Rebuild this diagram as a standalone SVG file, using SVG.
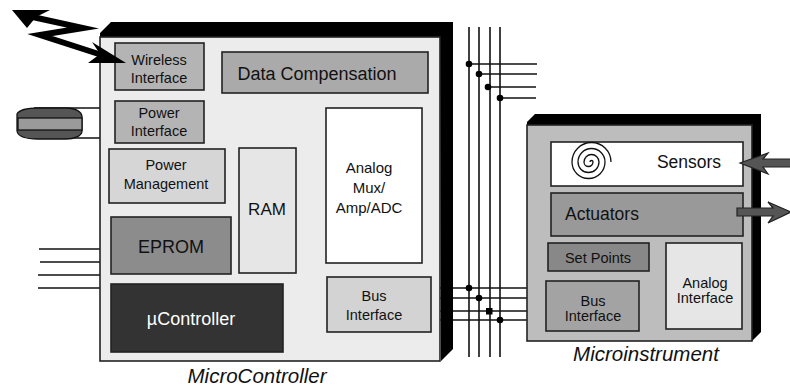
<svg xmlns="http://www.w3.org/2000/svg" width="790" height="390" viewBox="0 0 790 390">
<style>
.box{stroke:#222;stroke-width:1.6}
.t{font-family:"Liberation Sans",Arial,sans-serif;font-size:14.5px;fill:#111;text-anchor:middle}
.tl{font-family:"Liberation Sans",Arial,sans-serif;font-size:18px;fill:#111;text-anchor:middle}
.cap{font-family:"Liberation Sans",Arial,sans-serif;font-size:20.5px;font-style:italic;fill:#111;text-anchor:middle}
.w{stroke:#111;stroke-width:1.6;fill:none}
.dot{fill:#000}
.arr{fill:#555;stroke:#222;stroke-width:1.2;stroke-linejoin:miter}
</style>
<rect width="790" height="390" fill="#fff"/>

<g id="connectors">
  <line class="w" x1="39" y1="249" x2="100" y2="249"/>
  <line class="w" x1="40" y1="262" x2="100" y2="262"/>
  <line class="w" x1="38" y1="275" x2="100" y2="275"/>
  <line class="w" x1="38" y1="288" x2="100" y2="288"/>
  <line class="w" x1="34" y1="108" x2="115" y2="108"/>
  <line class="w" x1="34" y1="138" x2="115" y2="138"/>
  <line class="w" x1="469" y1="27" x2="469" y2="357"/>
  <line class="w" x1="479" y1="27" x2="479" y2="357"/>
  <line class="w" x1="490" y1="27" x2="490" y2="357"/>
  <line class="w" x1="500" y1="27" x2="500" y2="357"/>
  <line class="w" x1="469" y1="64" x2="537" y2="64"/>
  <line class="w" x1="479" y1="74" x2="537" y2="74"/>
  <line class="w" x1="489" y1="87" x2="536" y2="87"/>
  <line class="w" x1="500" y1="98" x2="536" y2="98"/>
  <circle class="dot" cx="469" cy="64" r="3.3"/>
  <circle class="dot" cx="479" cy="74" r="3.3"/>
  <circle class="dot" cx="488" cy="87" r="3.3"/>
  <circle class="dot" cx="500" cy="98" r="3.3"/>
  <line class="w" x1="431" y1="288" x2="547" y2="288"/>
  <line class="w" x1="431" y1="298" x2="547" y2="298"/>
  <line class="w" x1="431" y1="311" x2="547" y2="311"/>
  <line class="w" x1="431" y1="320" x2="547" y2="320"/>
  <circle class="dot" cx="469" cy="288" r="3.3"/>
  <circle class="dot" cx="479" cy="298" r="3.3"/>
  <rect class="dot" x="486" y="308" width="6.5" height="6.5"/>
  <circle class="dot" cx="500" cy="320" r="3.3"/>
</g>

<g id="microcontroller">
  <polygon points="100,37 100,33 111,22 453,22 453,349 441,361 440,37" fill="#000"/>
  <rect class="box" x="100" y="37" width="340" height="324" fill="#ececec"/>
</g>

<g id="wireless-interface">
  <rect class="box" x="115" y="43" width="89" height="47" fill="#b4b4b4"/>
  <text class="t" x="159" y="65">Wireless</text>
  <text class="t" x="159" y="83">Interface</text>
</g>
<g id="power-interface">
  <rect class="box" x="115" y="101" width="89" height="42" fill="#b4b4b4"/>
  <text class="t" x="159" y="118">Power</text>
  <text class="t" x="159" y="136">Interface</text>
</g>
<g id="data-compensation">
  <rect class="box" x="222" y="52" width="206" height="41" fill="#aaaaaa"/>
  <text class="tl" x="317" y="80">Data Compensation</text>
</g>
<g id="power-management">
  <rect class="box" x="109" y="149" width="116" height="54" fill="#d6d6d6"/>
  <text class="t" x="166" y="170">Power</text>
  <text class="t" x="166" y="189">Management</text>
</g>
<g id="ram">
  <rect class="box" x="239" y="148" width="57" height="125" fill="#e6e6e6"/>
  <text class="tl" x="267" y="215" style="font-size:17px">RAM</text>
</g>
<g id="analog-mux">
  <rect class="box" x="326" y="108" width="96" height="155" fill="#fff"/>
  <text class="t" x="369" y="173" style="font-size:15px">Analog</text>
  <text class="t" x="369" y="193" style="font-size:15px">Mux/</text>
  <text class="t" x="369" y="213" style="font-size:15px">Amp/ADC</text>
</g>
<g id="eprom">
  <rect class="box" x="111" y="217" width="120" height="57" fill="#8c8c8c"/>
  <text class="tl" x="171" y="253">EPROM</text>
</g>
<g id="ucontroller">
  <rect class="box" x="111" y="284" width="172" height="68" fill="#333"/>
  <text class="tl" x="191" y="325" style="fill:#fff">µController</text>
</g>
<g id="bus-interface-left">
  <rect class="box" x="327" y="277" width="104" height="55" fill="#d3d3d3"/>
  <text class="t" x="374" y="301">Bus</text>
  <text class="t" x="374" y="320">Interface</text>
</g>
<text class="cap" x="257" y="383">MicroController</text>

<g id="microinstrument">
  <polygon points="527,125 527,122 535,114 761,114 761,332 752,341 752,125" fill="#000"/>
  <rect class="box" x="527" y="125" width="225" height="216" fill="#bdbdbd"/>
</g>
<g id="sensors">
  <rect class="box" x="551" y="142" width="192" height="44" fill="#fff"/>
  <path d="M590,162 A1.5,1.5 0 0 1 593,162 A4.5,4.5 0 0 1 584,162 A7.5,7.5 0 0 1 599,162 A10.5,10.5 0 0 1 578,162 A13.5,13.5 0 0 1 605,162 A16.5,16.5 0 0 1 572,162 A19.5,19.5 0 0 1 611,162" fill="none" stroke="#111" stroke-width="1.3"/>
  <text class="tl" x="689" y="168" style="font-size:17.5px">Sensors</text>
</g>
<g id="actuators">
  <rect class="box" x="551" y="193" width="192" height="43" fill="#999"/>
  <text class="tl" x="565" y="220" style="font-size:17.5px;text-anchor:start">Actuators</text>
</g>
<g id="set-points">
  <rect class="box" x="548" y="243" width="101" height="28" fill="#888"/>
  <text class="t" x="598" y="263">Set Points</text>
</g>
<g id="analog-interface">
  <rect class="box" x="666" y="243" width="76" height="86" fill="#e6e6e6"/>
  <text class="t" x="705" y="288">Analog</text>
  <text class="t" x="705" y="303">Interface</text>
</g>
<g id="bus-interface-right">
  <rect class="box" x="546" y="281" width="93" height="50" fill="#a3a3a3"/>
  <text class="t" x="593" y="306">Bus</text>
  <text class="t" x="593" y="321">Interface</text>
</g>
<text class="cap" x="646" y="361">Microinstrument</text>

<g id="sensor-arrow">
  <polygon class="arr" points="740,163 768,153 763,159 792,159 792,167 763,167 768,174"/>
</g>
<g id="actuator-arrow">
  <polygon class="arr" points="737,208 773,208 768,202 791,212 768,223 773,216 737,216"/>
</g>

<g id="wireless-bolt">
  <polyline points="28,16 83,28 40,35 108,57" fill="none" stroke="#000" stroke-width="6" stroke-linejoin="miter" stroke-miterlimit="6"/>
  <polygon points="12,10 50,10 36,17 27,28" fill="#000"/>
  <polygon points="126,63 92,42 100,54 88,63" fill="#000"/>
</g>

<g id="battery">
  <path d="M17,114 C20,109 30,108 38,108 L66,108 C76,108 82,112 82,117 L82,131 C82,136 74,139 66,139 L38,139 C28,139 18,137 17,131 Z" fill="#555" stroke="#111" stroke-width="1.3"/>
  <rect x="18" y="118" width="64" height="12" fill="#9a9a9a" stroke="#111" stroke-width="1.3"/>
</g>
</svg>
